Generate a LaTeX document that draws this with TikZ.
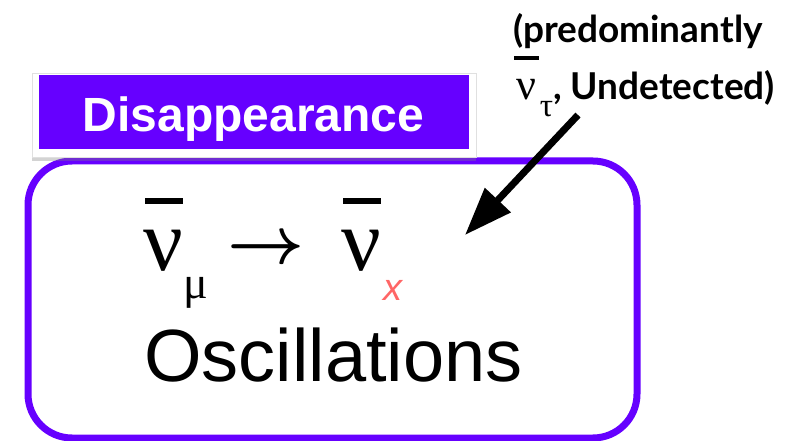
\RequirePackage{fix-cm}
\documentclass[tikz,border=0pt]{standalone}
\usepackage{amsmath}
\usepackage{fontspec}
\newfontfamily\arialfont{Liberation Sans}
\newfontfamily\timesfont{Liberation Serif}
\newfontfamily\latofont{Lato}
\usetikzlibrary{calc}
\usetikzlibrary{arrows.meta}
\usetikzlibrary{shadows}
\definecolor{oscpurple}{RGB}{102,0,255}
\definecolor{xred}{RGB}{255,102,102}

\begin{document}
\begin{tikzpicture}[inner sep=0pt,x=1pt,y=-1pt,
  bar/.style={fill=black,minimum width=38pt,minimum height=6pt},
  smallbar/.style={fill=black,minimum width=25pt,minimum height=4pt},
  pointer/.style={line width=7pt,-{Triangle[length=48pt,width=34pt]}}]
\useasboundingbox (0,0) rectangle (809,441);

\node[draw=oscpurple,line width=7pt,rounded corners=44pt,minimum width=609pt,minimum height=277pt] (osc) at (332.5,299.5) {};
\node[fill=white,draw=black!12,drop shadow={shadow xshift=0pt,shadow yshift=-4pt,opacity=0.35},minimum width=444pt,minimum height=84pt] (frame) at (254,115) {};
\node[fill=oscpurple,minimum width=430pt,minimum height=74pt] (title) at (254,112) {};
\node[anchor=base,text=white] (disap) at (253.5,131.7) {\arialfont\bfseries\fontsize{48}{48}\selectfont Disappearance};

\node[anchor=base] (numu) at (163.5,270) {\timesfont\fontsize{88}{88}\selectfont ν};
\node[bar] (numubar) at ($(numu.base)+(0,-69)$) {};
\node[anchor=base] (mu) at (196,298) {\timesfont\fontsize{46}{46}\selectfont μ};
\node (goes) at (266.5,250) {\fontsize{67}{67}\selectfont $\boldsymbol{\rightarrow}$};
\node[anchor=base] (nux) at (361.5,270) {\timesfont\fontsize{88}{88}\selectfont ν};
\node[bar] (nuxbar) at ($(nux.base)+(0,-69)$) {};
\node[anchor=base,text=xred] (x) at (393,300) {\arialfont\itshape\fontsize{38}{38}\selectfont x};
\node[anchor=base] (oscill) at (333.5,381) {\arialfont\fontsize{74}{74}\selectfont Oscillations};

\node[anchor=base west] (pred) at (513,43) {\latofont\bfseries\fontsize{37}{37}\selectfont (predominantly};
\node[anchor=base] (nutau) at (526,100) {\timesfont\fontsize{44}{44}\selectfont ν};
\node[smallbar] (nutaubar) at ($(nutau.base)+(0,-42)$) {};
\node[anchor=base] (tau) at (546.5,117) {\timesfont\fontsize{33}{33}\selectfont τ};
\node[anchor=base west] (undet) at (553,100) {\latofont\bfseries\fontsize{37}{37}\selectfont , Undetected)};

\coordinate (tail) at (578,115);
\coordinate (tip) at (465,235);
\draw[pointer] (tail) -- (tip);
\end{tikzpicture}
\end{document}
